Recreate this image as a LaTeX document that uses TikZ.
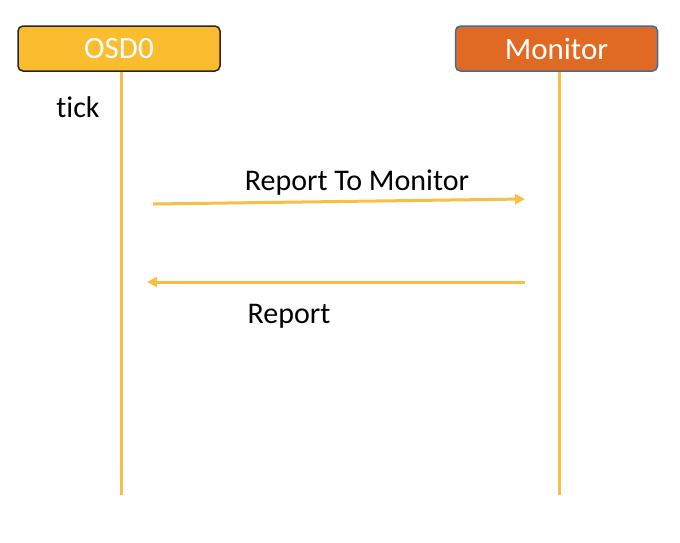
\documentclass[tikz,border=0pt]{standalone}
\usepackage{fontspec}
\setmainfont{Carlito}[Ligatures=NoCommon]
\usetikzlibrary{arrows.meta}
\definecolor{osdfill}{HTML}{FBBC2F}
\definecolor{monfill}{HTML}{E06A24}
\definecolor{monborder}{HTML}{3D6DA0}
\definecolor{lifecol}{HTML}{F7BF45}
\tikzset{
  actor/.style={rounded corners=5pt, line width=1.5pt, minimum width=202pt, minimum height=45pt, inner sep=0pt, text=white, font=\fontsize{31}{33}\selectfont},
  life/.style={draw=lifecol, line width=3pt},
  msg/.style={draw=lifecol, line width=3pt, -{Triangle[length=10pt,width=10pt]}},
  lbl/.style={font=\fontsize{30}{32}\selectfont, text=black, inner sep=0pt}
}
\begin{document}
\begin{tikzpicture}[x=1pt,y=-1pt]
\useasboundingbox (0,0) rectangle (680,542);
\node[actor, fill=osdfill, draw=black!85] (osd) at (119,48.5) {OSD0};
\node[actor, fill=monfill, draw=monborder] (mon) at (556.5,48.5) {Monitor};
\coordinate (osdend) at (121,495);
\coordinate (monend) at (559,495);
\draw[life] (osd.south -| osdend) -- (osdend);
\draw[life] (mon.south -| monend) -- (monend);
\node[lbl] (tick) at (78,107) {tick};
\coordinate (a1s) at (153,204);
\coordinate (a1e) at (525,199);
\draw[msg] (a1s) -- (a1e);
\node[lbl] (l1) at (357,183) {Report To Monitor};
\coordinate (a2s) at (525,282);
\coordinate (a2e) at (147,282);
\draw[msg] (a2s) -- (a2e);
\node[lbl] (l2) at (289,316) {Report};
\end{tikzpicture}
\end{document}
